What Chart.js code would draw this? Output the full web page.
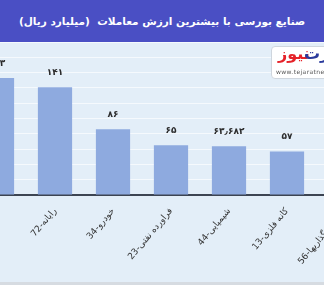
<!DOCTYPE html>
<html>
<head>
<meta charset="utf-8">
<script src="https://cdn.jsdelivr.net/npm/chart.js@4"></script>
<style>
  html, body { margin: 0; padding: 0; }
  body { width: 324px; height: 285px; overflow: hidden; position: relative; background: #e3eef8; font-family: "DejaVu Sans", sans-serif; }
  .head { position: absolute; left: 0; top: 0; width: 324px; height: 42px; background: #4a4fc4; color: #fff;
          font-weight: bold; font-size: 10.5px; text-align: center; line-height: 42px; direction: rtl; white-space: nowrap; z-index: 2; }
  .wrap { position: absolute; left: -32px; top: 0; width: 406px; height: 285px; }
  .logo { position: absolute; left: 271px; top: 46px; width: 62px; height: 31px; background: #fff; border: 1px solid #cfd6de;
          border-radius: 4px; z-index: 3; overflow: hidden; }
  .logo span { position: absolute; white-space: nowrap; font-weight: bold; }
  .logo .r { left: 6px; top: -3px; font-size: 16px; color: #e52229; }
  .logo .b { left: 32px; top: -3px; font-size: 16px; color: #2a3a9c; }
  .logo .w { left: 4px; top: 21px; font-size: 6px; color: #555; font-weight: normal; letter-spacing: 0.4px; }
  .foot { position: absolute; left: 0; top: 282px; width: 324px; height: 3px; background: #d6dbe1; }
</style>
</head>
<body>
<div class="head">صنایع بورسی با بیشترین ارزش معاملات&nbsp;&nbsp;(میلیارد ریال)</div>
<div class="logo"><span class="r">نیوز</span><span class="b">تجارت</span><span class="w">www.tejaratnews.com</span></div>
<div class="wrap"><canvas id="myChart"></canvas></div>
<div class="foot"></div>
<script>
'use strict';

const categories = ['27-فلزات اساسی', '72-رایانه', '34-خودرو', '23-فراورده نفتی', '44-شیمیایی', '13-کانه فلزی', '56-سرمایه گذاریها'];
const values = [153, 141, 86, 65, 63.682, 57, 52];
const valueLabels = ['۱۵۳', '۱۴۱', '۸۶', '۶۵', '۶۳٫۶۸۲', '۵۷', '۵۲'];

const barLabels = {
    id: 'barLabels',
    afterDatasetsDraw(chart) {
        const c = chart.ctx;
        const meta = chart.getDatasetMeta(0);
        c.save();
        c.font = 'bold 9px "DejaVu Sans"';
        c.fillStyle = '#2b2b2b';
        c.textAlign = 'center';
        c.textBaseline = 'bottom';
        meta.data.forEach((bar, i) => {
            c.fillText(valueLabels[i], bar.x, bar.y - 10);
        });
        c.restore();
    }
};

const ctx = document.getElementById('myChart');
new Chart(ctx, {
    type: 'bar',
    data: {
        labels: categories,
        datasets: [{
            data: values,
            backgroundColor: '#8eaadf',
            barPercentage: 0.59,
            categoryPercentage: 1
        }]
    },
    options: {
        responsive: true,
        maintainAspectRatio: false,
        animation: false,
        layout: { padding: { top: 42, left: 0, right: 0, bottom: 0 } },
        plugins: { legend: { display: false }, tooltip: { enabled: false } },
        scales: {
            y: {
                display: true,
                min: 0,
                max: 200,
                ticks: { stepSize: 20, display: false },
                grid: { color: '#f5f9fd', lineWidth: 1, drawTicks: false },
                border: { display: false }
            },
            x: {
                grid: { display: false },
                border: { display: true, color: '#3c4452', width: 2 },
                ticks: {
                    autoSkip: false,
                    minRotation: 50,
                    maxRotation: 50,
                    padding: 3,
                    color: '#333',
                    font: { family: 'DejaVu Sans', size: 9 }
                },
                afterFit(scale) {
                    scale.height = 90;
                    scale.paddingLeft = 0;
                    scale.paddingRight = 0;
                }
            }
        }
    },
    plugins: [barLabels]
});
</script>
</body>
</html>
